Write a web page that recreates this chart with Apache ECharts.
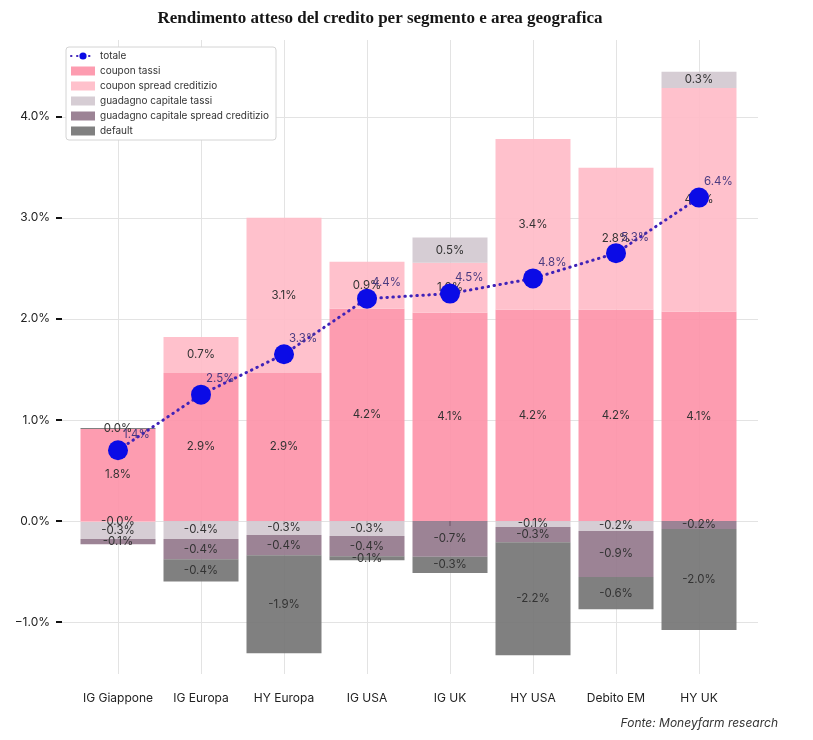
<!DOCTYPE html>
<html><head><meta charset="utf-8">
<script src="https://cdn.jsdelivr.net/npm/echarts@6/dist/echarts.min.js"></script>
<style>html,body{margin:0;padding:0;background:#fff}#c{width:813px;height:740px}</style>
</head><body><div id="c"></div>
<script>
// ---- data (values as printed on the chart, in %) ----
const categories = ['IG Giappone','IG Europa','HY Europa','IG USA','IG UK','HY USA','Debito EM','HY UK'];
const couponTassi   = [1.82, 2.93, 2.93, 4.20, 4.12, 4.18, 4.18, 4.14];
const couponSpread  = [-0.02, 0.71, 3.07, 0.93, 0.99, 3.38, 2.81, 4.43];
const capTassi      = [-0.34, -0.36, -0.28, -0.30, 0.50, -0.12, -0.20, 0.32];
const capSpread     = [-0.10, -0.40, -0.40, -0.40, -0.71, -0.30, -0.91, -0.16];
const defaultLoss   = [0.02, -0.44, -1.94, -0.08, -0.32, -2.24, -0.64, -2.00];
const totale        = [1.4, 2.5, 3.3, 4.4, 4.5, 4.8, 5.3, 6.4];
const yTicks = [-1, 0, 1, 2, 3, 4];
// the original chart draws every mark at half of its printed value
const DISPLAY_SCALE = 0.5;
const Y_MIN = -1.515, Y_MAX = 4.76;

const FONT = 'Inter';
const chart = echarts.init(document.getElementById('c'), null, {renderer: 'canvas'});

function barSeries(name, values, color) {
  return {
    name: name, type: 'bar', xAxisIndex: 1, yAxisIndex: 1, stack: 'tot', barWidth: 75,
    itemStyle: {color: color},
    label: {show: true, position: 'inside', color: '#333', fontSize: 11.5, fontFamily: FONT,
            formatter: p => p.data.raw.toFixed(1) + '%'},
    data: values.map(v => ({value: v * DISPLAY_SCALE, raw: v})),
    z: 2
  };
}

const option = {
  animation: false,
  backgroundColor: '#fff',
  grid: [
    {left: 62, right: 55, top: 40, bottom: 66},
    {left: 76.5, right: 72.5, top: 40, bottom: 66}
  ],
  xAxis: [
    {gridIndex: 0, type: 'value', min: 0, max: 1, show: false},
    {gridIndex: 1, type: 'category', data: categories, offset: 10,
     axisLine: {show: false},
     axisTick: {show: true, alignWithLabel: true, length: 5, lineStyle: {color: '#111', width: 2}},
     axisLabel: {interval: 0, fontSize: 12, color: '#222', fontFamily: FONT, margin: 8},
     splitLine: {show: false}}
  ],
  yAxis: [
    {gridIndex: 0, type: 'value', min: Y_MIN, max: Y_MAX,
     axisLine: {show: false},
     axisTick: {show: true, customValues: yTicks, length: 6, lineStyle: {color: '#111', width: 2}},
     axisLabel: {customValues: yTicks, fontSize: 12, color: '#222', fontFamily: FONT, margin: 12,
                 formatter: v => (v < 0 ? '\u2212' : '') + Math.abs(v).toFixed(1) + '%'},
     splitLine: {show: false}},
    {gridIndex: 1, type: 'value', min: Y_MIN, max: Y_MAX, show: false, splitLine: {show: false}}
  ],
  legend: {
    data: [
      {name: 'totale'},
      {name: 'coupon tassi', icon: 'rect'},
      {name: 'coupon spread creditizio', icon: 'rect'},
      {name: 'guadagno capitale tassi', icon: 'rect'},
      {name: 'guadagno capitale spread creditizio', icon: 'rect'},
      {name: 'default', icon: 'rect'}
    ],
    z: 20, zlevel: 0,
    orient: 'vertical', left: 66, top: 47, itemWidth: 24, itemHeight: 9, itemGap: 3,
    padding: [3, 7, 3, 4], backgroundColor: '#fff', borderColor: '#d4d4d4', borderWidth: 1, borderRadius: 3,
    textStyle: {fontSize: 10, color: '#333', fontFamily: FONT, lineHeight: 12},
    selectedMode: false
  },
  graphic: [
    {type: 'text', x: 380, y: 19,
     style: {text: 'Rendimento atteso del credito per segmento e area geografica', align: 'center', verticalAlign: 'middle',
             font: 'bold 17px "Liberation Serif"', fill: '#151515'}},
    {type: 'text', x: 778, y: 723,
     style: {text: 'Fonte: Moneyfarm research', align: 'right', verticalAlign: 'middle',
             font: 'italic 12px Inter', fill: '#333'}}
  ],
  series: [
    {type: 'line', xAxisIndex: 0, yAxisIndex: 0, data: [], silent: true, z: 0,
     markLine: {silent: true, symbol: 'none', label: {show: false}, z: 0,
                lineStyle: {color: '#e3e3e3', width: 1, type: 'solid'},
                data: yTicks.map(v => ({yAxis: v}))}},
    {type: 'line', xAxisIndex: 1, yAxisIndex: 1, data: [], silent: true, z: 0,
     markLine: {silent: true, symbol: 'none', label: {show: false}, z: 0,
                lineStyle: {color: '#e3e3e3', width: 1, type: 'solid'},
                data: categories.map(c => ({xAxis: c}))}},
    barSeries('coupon tassi', couponTassi, 'rgba(253,145,167,0.9)'),
    barSeries('coupon spread creditizio', couponSpread, 'rgba(255,186,198,0.9)'),
    barSeries('guadagno capitale tassi', capTassi, 'rgba(209,200,207,0.9)'),
    barSeries('guadagno capitale spread creditizio', capSpread, 'rgba(145,118,137,0.9)'),
    barSeries('default', defaultLoss, 'rgba(114,114,114,0.9)'),
    {name: 'totale', type: 'line', xAxisIndex: 1, yAxisIndex: 1, z: 5,
     data: totale.map(v => ({value: v * DISPLAY_SCALE, raw: v})),
     symbol: 'circle', symbolSize: 20,
     itemStyle: {color: '#0b0be6'},
     lineStyle: {color: '#3f22b8', width: 3, type: [0.5, 5.5], cap: 'round'},
     label: {show: true, position: [15, -12], color: '#4a3a80', fontSize: 11.5, fontFamily: FONT,
             formatter: p => p.data.raw.toFixed(1) + '%'}}
  ]
};
chart.setOption(option);
</script>
</body></html>
